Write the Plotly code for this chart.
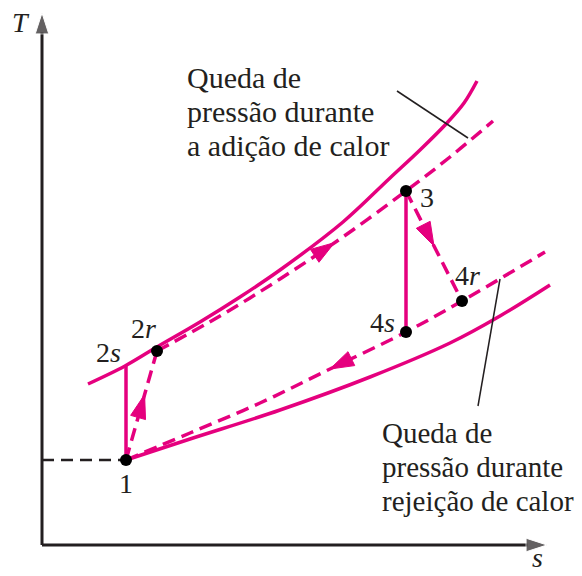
import numpy as np
import plotly.graph_objects as go

PINK = "#E5007E"
INK = "#231F20"
FONT = "Liberation Serif"

# diagrama T-s do ciclo Brayton com perdas (unidades do desenho)
s_alta = [46, 83, 115, 158, 198, 238, 301, 348, 378, 404, 422, 435]
T_alta = [161, 179, 198, 223, 248, 275, 323, 367, 395, 421, 442, 464]
s_alta_real = [115, 178, 238, 298, 364, 408, 451]
T_alta_real = [194, 229, 266, 306, 354, 388, 424]
s_baixa = [84, 148, 238, 328, 408, 458, 508]
T_baixa = [85, 106, 135, 168, 202, 229, 260]
s_baixa_real = [84, 148, 218, 288, 364, 420, 503]
T_baixa_real = [85, 112, 142, 176, 213, 244, 293]

estados = ["1", "2s", "2r", "3", "4s", "4r"]
rotulos = ["1", "2<i>s</i>", "2<i>r</i>", "3", "4<i>s</i>", "4<i>r</i>"]
s_estado = [84, 84, 115, 364, 364, 420]
T_estado = [85, 179, 194, 354, 213, 244]

nota_alta = ["Queda de", "pressão durante", "a adição de calor"]
nota_baixa = ["Queda de", "pressão durante", "rejeição de calor"]

E = dict(zip(estados, zip(s_estado, T_estado)))


def seta(xs, ys, frac):
    # ponta de seta ao longo de uma polilinha, na fração frac do comprimento
    xs, ys = np.asarray(xs, float), np.asarray(ys, float)
    L = np.concatenate([[0], np.cumsum(np.hypot(np.diff(xs), np.diff(ys)))])
    d = [frac * L[-1] - 6, frac * L[-1]]
    return go.Scatter(x=np.interp(d, L, xs), y=np.interp(d, L, ys), mode="markers",
                      marker=dict(symbol="arrow", size=[0, 25], color=PINK, opacity=1,
                                  angleref="previous", line=dict(color=PINK, width=1)),
                      hoverinfo="skip", cliponaxis=False)


fig = go.Figure()

# eixos
fig.add_trace(go.Scatter(x=[0, 0], y=[0, 532], mode="lines+markers",
                         line=dict(color=INK, width=3),
                         marker=dict(symbol="arrow", size=[0, 22], color=INK, angleref="previous"),
                         cliponaxis=False))
fig.add_trace(go.Scatter(x=[0, 505], y=[0, 0], mode="lines+markers",
                         line=dict(color=INK, width=3),
                         marker=dict(symbol="arrow", size=[0, 22], color=INK, angleref="previous"),
                         cliponaxis=False))
fig.add_trace(go.Scatter(x=[0, E["1"][0]], y=[E["1"][1]] * 2, mode="lines",
                         line=dict(color=INK, width=2.5, dash="12px,7px")))

# linhas de pressão
fig.add_trace(go.Scatter(x=s_alta, y=T_alta, mode="lines", line_shape="spline",
                         line=dict(color=PINK, width=3.5)))
fig.add_trace(go.Scatter(x=s_baixa, y=T_baixa, mode="lines", line_shape="spline",
                         line=dict(color=PINK, width=3.5)))
fig.add_trace(go.Scatter(x=s_alta_real, y=T_alta_real, mode="lines", line_shape="spline",
                         line=dict(color=PINK, width=3.5, dash="13px,7px")))
fig.add_trace(go.Scatter(x=s_baixa_real, y=T_baixa_real, mode="lines", line_shape="spline",
                         line=dict(color=PINK, width=3.5, dash="13px,7px")))

# compressão e expansão
for a, b, dash in [("1", "2s", "solid"), ("3", "4s", "solid"),
                   ("1", "2r", "13px,7px"), ("3", "4r", "13px,7px")]:
    fig.add_trace(go.Scatter(x=[E[a][0], E[b][0]], y=[E[a][1], E[b][1]], mode="lines",
                             line=dict(color=PINK, width=3.5, dash=dash)))

fig.add_trace(seta([E["1"][0], E["2r"][0]], [E["1"][1], E["2r"][1]], 0.6))
fig.add_trace(seta(s_alta_real, T_alta_real, 0.51))
fig.add_trace(seta([E["3"][0], E["4r"][0]], [E["3"][1], E["4r"][1]], 0.5))
fig.add_trace(seta(s_baixa_real[::-1], T_baixa_real[::-1], 0.523))

# linhas de chamada
fig.add_trace(go.Scatter(x=[355, 426], y=[454, 407], mode="lines", line=dict(color=INK, width=1.5)))
fig.add_trace(go.Scatter(x=[458, 436], y=[266, 139], mode="lines", line=dict(color=INK, width=1.5)))

# estados
com_ponto = [e for e in estados if e != "2s"]
fig.add_trace(go.Scatter(x=[E[e][0] for e in com_ponto], y=[E[e][1] for e in com_ponto],
                         mode="markers", marker=dict(color="black", size=12)))

desloc = {"1": (0, -23), "2s": (-18, 14), "2r": (-14, 23),
          "3": (21, -6), "4s": (-24, 10), "4r": (5, 26)}
for e, r, s, T in zip(estados, rotulos, s_estado, T_estado):
    fig.add_annotation(x=s, y=T, text=r, showarrow=False, xshift=desloc[e][0], yshift=desloc[e][1],
                       font=dict(family=FONT, size=28, color=INK))

for i, txt in enumerate(nota_alta):
    fig.add_annotation(x=143, y=468 - 34 * i, text=txt, showarrow=False, xanchor="left",
                       font=dict(family=FONT, size=30, color=INK))
for i, txt in enumerate(nota_baixa):
    fig.add_annotation(x=338, y=112 - 34 * i, text=txt, showarrow=False, xanchor="left",
                       font=dict(family=FONT, size=29, color=INK))

fig.add_annotation(x=-21, y=523, text="<i>T</i>", showarrow=False,
                   font=dict(family=FONT, size=28, color=INK))
fig.add_annotation(x=495, y=-12, text="<i>s</i>", showarrow=False,
                   font=dict(family=FONT, size=28, color=INK))

# a página tem margem de 8px: a figura começa em (8, 8) da janela
fig.update_layout(
    width=574, height=568, margin=dict(l=0, r=0, t=0, b=0),
    paper_bgcolor="white", plot_bgcolor="white", showlegend=False,
    xaxis=dict(range=[-34, 540], visible=False),
    yaxis=dict(range=[-31, 537], visible=False),
)

fig.write_html("out.html")
